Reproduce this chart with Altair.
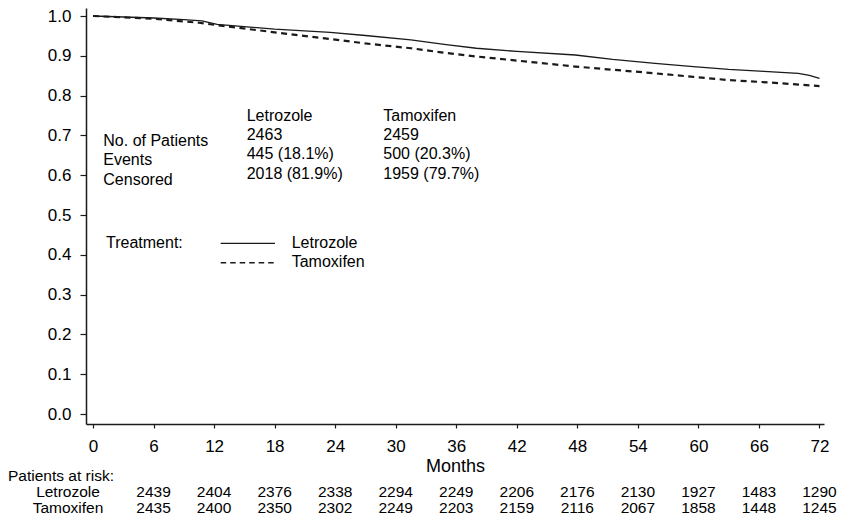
import altair as alt
import pandas as pd

# ---- data ----
let_months = [0, 6, 9, 10.8, 12.3, 18, 23.5, 27, 31.5, 35, 38, 42, 47.8, 51.5, 55.7, 59.5, 63, 66.5, 69.9, 71, 72]
let_surv = [1.0, 0.995, 0.991, 0.988, 0.979, 0.967, 0.959, 0.951, 0.940, 0.928, 0.919, 0.911, 0.902, 0.891, 0.881, 0.873, 0.866, 0.861, 0.856, 0.851, 0.843]

tam_months = [0, 6, 10.5, 12.3, 18, 23.6, 27, 31.5, 35, 38.1, 42, 47.8, 51.5, 55.7, 59.5, 63, 67, 72]
tam_surv = [1.0, 0.993, 0.983, 0.977, 0.959, 0.942, 0.931, 0.919, 0.907, 0.898, 0.888, 0.873, 0.865, 0.856, 0.847, 0.839, 0.833, 0.824]

x_ticks = [0, 6, 12, 18, 24, 30, 36, 42, 48, 54, 60, 66, 72]
y_ticks = [0.0, 0.1, 0.2, 0.3, 0.4, 0.5, 0.6, 0.7, 0.8, 0.9, 1.0]

risk_months = [6, 12, 18, 24, 30, 36, 42, 48, 54, 60, 66, 72]
risk_let = [2439, 2404, 2376, 2338, 2294, 2249, 2206, 2176, 2130, 1927, 1483, 1290]
risk_tam = [2435, 2400, 2350, 2302, 2249, 2203, 2159, 2116, 2067, 1858, 1448, 1245]

stat_labels = ["No. of Patients", "Events", "Censored"]
let_stats = ["Letrozole", "2463", "445 (18.1%)", "2018 (81.9%)"]
tam_stats = ["Tamoxifen", "2459", "500 (20.3%)", "1959 (79.7%)"]

treatments = ["Letrozole", "Tamoxifen"]

FONT = "Liberation Sans"
INK = "#1a1a1a"

let_df = pd.DataFrame({"month": let_months, "surv": let_surv})
tam_df = pd.DataFrame({"month": tam_months, "surv": tam_surv})
risk_let_df = pd.DataFrame({"month": risk_months, "n": [str(v) for v in risk_let]})
risk_tam_df = pd.DataFrame({"month": risk_months, "n": [str(v) for v in risk_tam]})

xscale = alt.Scale(domain=[-0.694, 72.448], nice=False, zero=False)
yscale = alt.Scale(domain=[-0.0251, 1.0201], nice=False, zero=False)

xenc = alt.X("month:Q", scale=xscale,
             axis=alt.Axis(values=x_ticks, title="Months", tickSize=4, labelPadding=10,
                           titlePadding=3, titleFontSize=18, titleFontWeight="normal",
                           titleFont=FONT, titleColor="black", labelFlush=False))
yenc = alt.Y("surv:Q", scale=yscale,
             axis=alt.Axis(values=y_ticks, format=".1f", title=None, tickSize=6, labelPadding=9))

let_line = alt.Chart(let_df).mark_line(color=INK, strokeWidth=1.3).encode(x=xenc, y=yenc)
tam_line = alt.Chart(tam_df).mark_line(color=INK, strokeWidth=2.2, strokeDash=[6, 4.5]).encode(x=xenc, y=yenc)


def text_block(lines, x, y, align="left", size=16):
    df = pd.DataFrame({"label": ["\n".join(lines)]})
    return alt.Chart(df).mark_text(
        align=align, baseline="alphabetic", font=FONT, fontSize=size, color="black",
        lineBreak="\n", lineHeight=19.3
    ).encode(x=alt.value(x), y=alt.value(y), text="label:N")


stats_left = text_block(stat_labels, 17.3, 138)
stats_let = text_block(let_stats, 160.7, 112.7)
stats_tam = text_block(tam_stats, 297.3, 112.7)

# legend
legend_title = text_block(["Treatment:"], 20, 240.3)
legend_let_lbl = text_block([treatments[0]], 205.7, 240.3)
legend_tam_lbl = text_block([treatments[1]], 205.7, 258.7)
one = pd.DataFrame({"k": [0]})
legend_solid = alt.Chart(one).mark_rule(color=INK, strokeWidth=1.3).encode(
    x=alt.value(134.7), x2=alt.value(189), y=alt.value(235.3))
legend_dash = alt.Chart(one).mark_rule(color=INK, strokeWidth=1.6, strokeDash=[5.5, 4]).encode(
    x=alt.value(134.7), x2=alt.value(189), y=alt.value(254.7))

# patients at risk
RS = 15.5
risk_title = text_block(["Patients at risk:"], -78, 472.5, size=RS)
risk_let_lbl = text_block([treatments[0]], -18, 488.5, align="center", size=RS)
risk_tam_lbl = text_block([treatments[1]], -18, 504.5, align="center", size=RS)
risk_let_txt = alt.Chart(risk_let_df).mark_text(
    font=FONT, fontSize=RS, color="black", align="center", baseline="alphabetic"
).encode(x=alt.X("month:Q", scale=xscale), y=alt.value(488.5), text="n:N")
risk_tam_txt = alt.Chart(risk_tam_df).mark_text(
    font=FONT, fontSize=RS, color="black", align="center", baseline="alphabetic"
).encode(x=alt.X("month:Q", scale=xscale), y=alt.value(504.5), text="n:N")

chart = alt.layer(
    let_line, tam_line,
    stats_left, stats_let, stats_tam,
    legend_title, legend_let_lbl, legend_tam_lbl, legend_solid, legend_dash,
    risk_title, risk_let_lbl, risk_tam_lbl, risk_let_txt, risk_tam_txt,
).properties(
    width=738, height=416,
    autosize=alt.AutoSizeParams(type="none"),
    padding={"left": 78, "top": 0, "right": 13, "bottom": 92},
    background="white",
).configure_view(
    stroke=None
).configure_axis(
    grid=False, domainColor=INK, domainWidth=1.5, tickColor=INK, tickWidth=1.2,
    labelFont=FONT, labelFontSize=17, labelColor="black",
)

chart.save("out.html", embed_options={"renderer": "svg", "actions": False})
